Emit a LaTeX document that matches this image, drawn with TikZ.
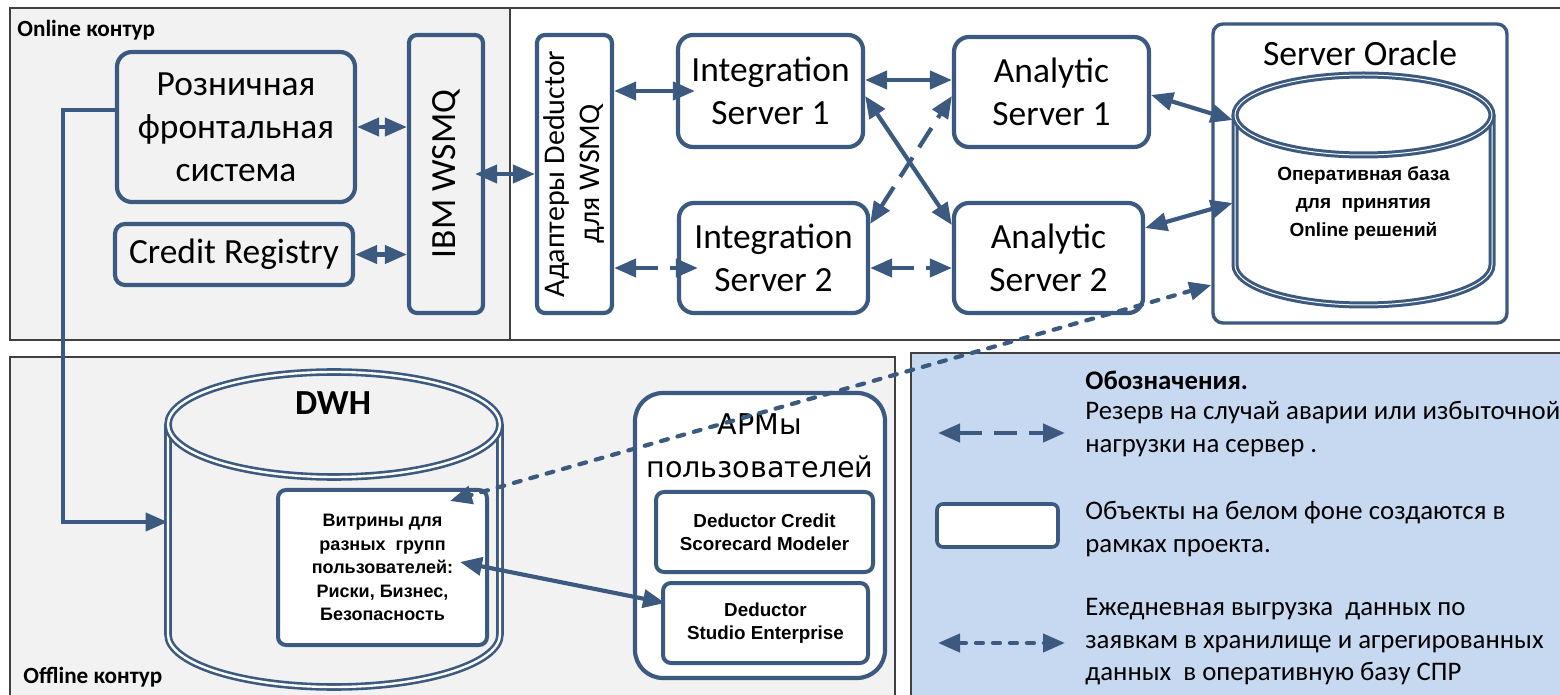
\documentclass[tikz,border=0pt]{standalone}
\usepackage{fontspec}
\setmainfont{Carlito}
\newfontfamily\arialf{Liberation Sans}
\newfontfamily\verdf{DejaVu Sans}
\usetikzlibrary{arrows.meta}
\definecolor{lineblue}{RGB}{60,90,128}
\definecolor{panelgray}{RGB}{242,242,242}
\definecolor{legendblue}{RGB}{198,217,241}

\tikzset{
  panel/.style={draw=black!75, line width=0.8pt},
  caption/.style={anchor=west, inner sep=0pt, font=\bfseries\fontsize{11.6}{13}\selectfont},
  box/.style={draw=lineblue, line width=2.1pt, rounded corners=7.5pt, fill=white, align=center, inner sep=0pt, font=\fontsize{17.7}{21.5}\selectfont},
  graybox/.style={box, fill=panelgray},
  smallbox/.style={box, rounded corners=4pt, line width=2pt, font=\arialf\bfseries\fontsize{9.4}{11.7}\selectfont},
  dbarea/.style={inner sep=0pt},
  dbline/.style={draw=lineblue, double=white},
  lgtext/.style={anchor=west, align=left, inner sep=0pt, font=\fontsize{13.4}{16.25}\selectfont},
  link/.style={draw=lineblue, line width=2.1pt, {Triangle[length=11pt,width=9pt]}-{Triangle[length=11pt,width=9pt]}},
  reserve/.style={link, dash pattern=on 11.5pt off 6pt},
  daily/.style={link, dash pattern=on 3.5pt off 5pt, line cap=round},
  feed/.style={draw=lineblue, line width=2.1pt, -{Triangle[length=11pt,width=9pt]}},
}

\begin{document}
\begin{tikzpicture}[x=0.5pt,y=-0.5pt]
  \clip (0,0) rectangle (1560,695);
  % panels
  \draw[panel, fill=panelgray] (10,8) rectangle (510,340);
  \draw[panel, fill=white] (510,8) rectangle (1600,340);
  \draw[panel, fill=panelgray] (10,357) rectangle (895,720);
  \draw[panel, fill=legendblue] (911,353) rectangle (1600,720);

  \node[caption] (oncap) at (17,30) {Online контур};
  \node[caption] (offcap) at (23,677) {Offline контур};

  % online contour
  \node[graybox, minimum width=119pt, minimum height=75pt] (front) at (236,127) {Розничная\\фронтальная\\система};
  \node[graybox, rounded corners=5pt, minimum width=119pt, minimum height=30.5pt] (credit) at (234,254.5) {Credit Registry};
  \node[graybox, rounded corners=4pt, minimum width=37pt, minimum height=139pt] (ibm) at (446,174) {\rotatebox{90}{IBM WSMQ}};

  % servers
  \node[box, rounded corners=4pt, minimum width=37.5pt, minimum height=139pt, font=\fontsize{15}{17.5}\selectfont] (adapt) at (574.5,174)
    {\rotatebox{90}{\begin{tabular}{@{}c@{}}Адаптеры Deductor\\для WSMQ\end{tabular}}};
  \node[box, minimum width=92.5pt, minimum height=56pt] (int1) at (770.5,91) {Integration\\Server 1};
  \node[box, minimum width=94.5pt, minimum height=55pt] (int2) at (773.5,258) {Integration\\Server 2};
  \node[box, minimum width=97.5pt, minimum height=55pt] (an1) at (1051.5,92) {Analytic\\Server 1};
  \node[box, minimum width=94.5pt, minimum height=55pt] (an2) at (1048.5,258) {Analytic\\Server 2};

  \node[box, rounded corners=5pt, line width=1.7pt, minimum width=147pt, minimum height=149.5pt] (orcl) at (1360,173.5) {};
  \node[font=\fontsize{17.8}{21}\selectfont] (orclcap) at (1360,53) {Server Oracle};
  \node[dbarea, minimum width=128.5pt, minimum height=115pt] (odb) at (1363.5,190) {};
  \fill[white] (1235,115) -- (1235,265) arc[start angle=180, end angle=0, x radius=128.5, y radius=40] -- (1492,115) -- cycle;
  \draw[dbline, line width=1.5pt, double distance=0.5pt] (1235,115) -- (1235,265) arc[start angle=180, end angle=0, x radius=128.5, y radius=40] -- (1492,115);
  \draw[dbline, fill=white, line width=1.5pt, double distance=0.5pt] (1363.5,115) ellipse [x radius=128.5, y radius=40];
  \node[align=center, font=\arialf\bfseries\fontsize{9.5}{14}\selectfont] (odbtxt) at (1363.5,204)
    {Оперативная база\\для~~принятия\\Online решений};

  % offline contour
  \node[dbarea, minimum width=166pt, minimum height=157.5pt] (dwh) at (334,529.5) {};
  \fill[panelgray] (168,424.5) -- (168,634.5) arc[start angle=180, end angle=0, x radius=166, y radius=52.5] -- (500,424.5) -- cycle;
  \draw[dbline, line width=1.3pt, double distance=1.2pt] (168,424.5) -- (168,634.5) arc[start angle=180, end angle=0, x radius=166, y radius=52.5] -- (500,424.5);
  \draw[dbline, fill=panelgray, line width=1.3pt, double distance=1.2pt] (334,424.5) ellipse [x radius=166, y radius=52.5];
  \node[font=\bfseries\fontsize{17.6}{20}\selectfont] (dwhcap) at (333,403) {DWH};
  \node[smallbox, font=\arialf\bfseries\fontsize{9}{11.7}\selectfont, minimum width=104.5pt, minimum height=77.5pt] (vitr) at (382.5,567.5)
    {Витрины для\\разных~~групп\\пользователей:\\Риски, Бизнес,\\Безопасность};

  \node[box, rounded corners=14pt, minimum width=125pt, minimum height=142.5pt] (arm) at (760,535.5) {};
  \node[font=\verdf\fontsize{14.3}{21.5}\selectfont, align=center] (armcap) at (760,446) {АРМы\\пользователей};
  \node[smallbox, minimum width=108.5pt, minimum height=40pt] (dcsm) at (764.5,532) {Deductor Credit\\Scorecard Modeler};
  \node[smallbox, minimum width=102.5pt, minimum height=40pt] (dse) at (765.5,623) {Deductor\\Studio Enterprise};

  % legend
  \node[lgtext, font=\bfseries\fontsize{13.4}{16.25}\selectfont] (lgtitle) at (1085,380) {Обозначения.};
  \node[lgtext] (lgres) at (1085,429) {Резерв на случай аварии или избыточной\\нагрузки на сервер .};
  \node[lgtext] (lgnew) at (1085,529) {Объекты на белом фоне создаются в\\рамках проекта.};
  \node[lgtext] (lgday) at (1085,642) {Ежедневная выгрузка~~данных по\\заявкам в хранилище и агрегированных\\данных~~в оперативную базу СПР};
  \node[box, rounded corners=3pt, line width=1.8pt, minimum width=60.5pt, minimum height=21.5pt] (lgbox) at (997.5,525.5) {};
  \coordinate (lgresA) at (938,433);
  \coordinate (lgresB) at (1065,433);
  \coordinate (lgdayA) at (938,643);
  \coordinate (lgdayB) at (1065,643);
  \draw[reserve] (lgresA) -- (lgresB);
  \draw[daily] (lgdayA) -- (lgdayB);

  % connectors
  \draw[link] (front.east) -- (front.east -| ibm.west);
  \draw[link] (credit.east) -- (credit.east -| ibm.west);
  \draw[link, shorten <=-5pt] (ibm.east) -- (adapt.west);
  \draw[link, shorten >=-9.5pt] (adapt.east |- int1.west) -- (int1.west);
  \coordinate (int2w) at ([yshift=-5pt]int2.west);
  \draw[reserve, shorten >=-10.5pt] (adapt.east |- int2w) -- (int2w);
  \coordinate (int1e) at ([yshift=5.5pt]int1.east);
  \draw[link] (int1e) -- (int1e -| an1.west);
  \draw[link] ([yshift=-2.5pt]int1.east) -- ([yshift=16.5pt]an2.west);
  \draw[reserve] ([yshift=17pt]int2.east) -- ([yshift=-2pt]an1.west);
  \coordinate (int2e) at ([yshift=-5pt]int2.east);
  \draw[reserve] (int2e) -- (int2e -| an2.west);
  \draw[link] ([yshift=-1.5pt]an1.east) -- ([xshift=-1pt,yshift=35pt]odb.west);
  \draw[link] ([yshift=15pt]an2.east) -- ([xshift=-1pt,yshift=-6.5pt]odb.west);

  \coordinate (lane) at (63,0);
  \coordinate (dwhin) at ([yshift=3.75pt]dwh.west);
  \draw[feed] ([yshift=8.5pt]front.west) -- ([yshift=8.5pt]front.west -| lane) |- (dwhin);
  \draw[link] ([xshift=-14.5pt,yshift=2.75pt]vitr.east) -- ([xshift=2pt,yshift=10pt]dse.west);
  \draw[daily] ([yshift=-55.75pt]orcl.west) -- ([xshift=-19.5pt,yshift=-6.5pt]vitr.north east);
\end{tikzpicture}
\end{document}
